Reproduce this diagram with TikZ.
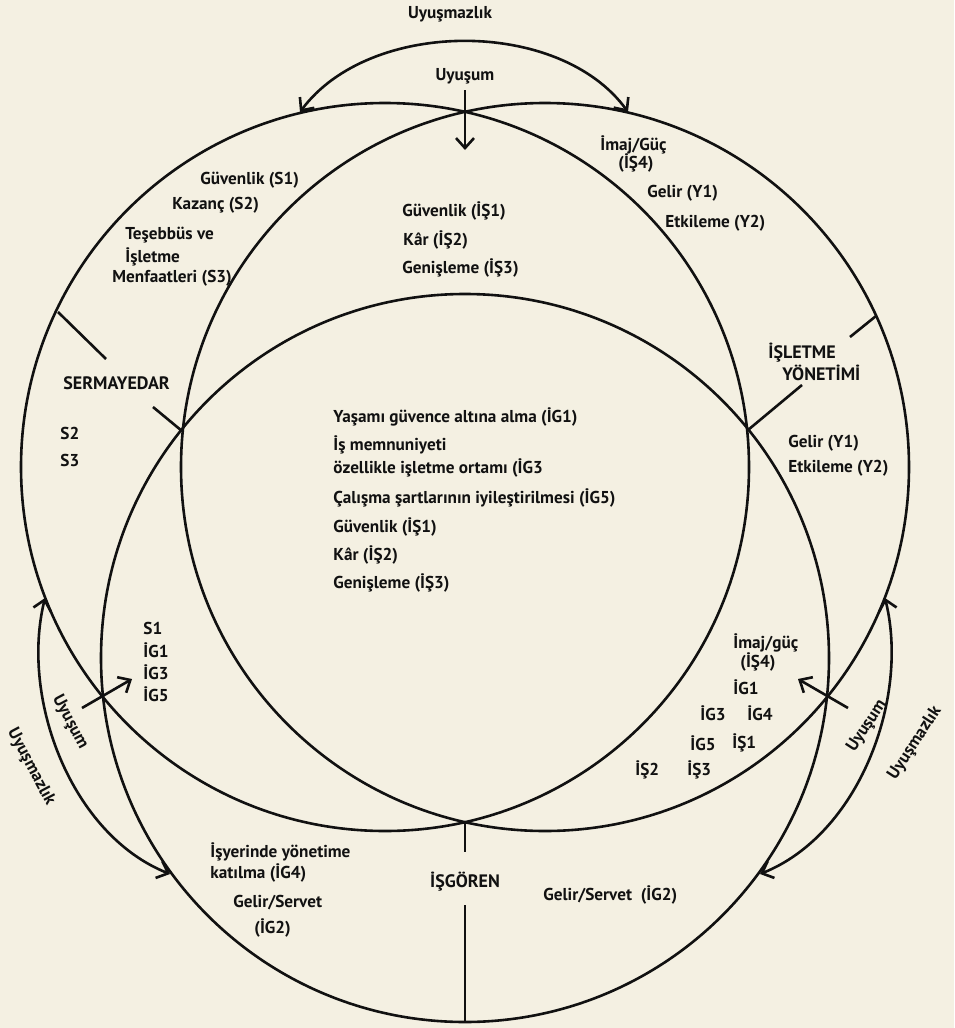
\documentclass[tikz,border=0pt]{standalone}
\usepackage{fontspec}
\setsansfont{PT Sans}
\usetikzlibrary{arrows.meta}
\definecolor{paper}{HTML}{F4F0E2}
\definecolor{ink}{HTML}{111111}

\begin{document}
\begin{tikzpicture}[
    x=0.5pt, y=-0.5pt,
    >={Straight Barb[length=5pt, width=9pt]},
    every node/.style={font=\sffamily\bfseries\fontsize{8.6}{10}\selectfont, text=ink, inner sep=0pt},
    % Group circle
    grp/.style={draw=ink, line width=1.3pt},
    % Harmony / conflict arrows
    arr/.style={->, line width=1.3pt, draw=ink},
    arrb/.style={<->, line width=1.3pt, draw=ink},
    % Pointer from group name
    ptr/.style={line width=1.3pt, draw=ink},
    % Goal text, left aligned
    goal/.style={anchor=west},
    % Group name
    gname/.style={anchor=west, font=\sffamily\bfseries\fontsize{9}{10}\selectfont}
]

% ---------- Paper ----------
\fill[paper] (0,0) rectangle (954,1028);
\useasboundingbox (0,0) rectangle (954,1028);

% ---------- Three group circles ----------
\coordinate (cS) at (385,467);
\coordinate (cY) at (545,467);
\coordinate (cI) at (465,658);
\draw[grp] (cS) circle[radius=182pt];
\draw[grp] (cY) circle[radius=182pt];
\draw[grp] (cI) circle[radius=182pt];

% ---------- Top: Uyusum / Uyusmazlik ----------
\node (uzTop) at (450,14) {Uyuşmazlık};
\node (usTop) at (465,76) {Uyuşum};
\coordinate (tA) at (465,90);
\coordinate (tB) at (465,150);
\draw[arr] (tA) -- (tB);
\coordinate (tL) at (300,112);
\coordinate (tR) at (628,112);
\draw[arrb] (tL) .. controls (370,18) and (560,18) .. (tR);

% ---------- Left: Uyusum / Uyusmazlik ----------
\coordinate (lA) at (82,708);
\coordinate (lB) at (132,679);
\draw[arr] (lA) -- (lB);
\node[rotate=-62] (usLeft) at (70,722) {Uyuşum};
\coordinate (lT) at (45,598);
\coordinate (lU) at (170,874);
\draw[arrb] (lT) .. controls (20,700) and (72,835) .. (lU);
\node[rotate=-62] (uzLeft) at (31,767) {Uyuşmazlık};

% ---------- Right: Uyusum / Uyusmazlik ----------
\coordinate (rA) at (848,708);
\coordinate (rB) at (798,679);
\draw[arr] (rA) -- (rB);
\node[rotate=57] (usRight) at (867,726) {Uyuşum};
\coordinate (rT) at (885,598);
\coordinate (rU) at (760,874);
\draw[arrb] (rT) .. controls (910,700) and (858,835) .. (rU);
\node[rotate=57] (uzRight) at (915,743) {Uyuşmazlık};

% ---------- SERMAYEDAR ----------
\node[goal] (s1) at (200,180) {Güvenlik (S1)};
\node[goal] (s2) at (172,205) {Kazanç (S2)};
\node[goal] (s3a) at (125,235) {Teşebbüs ve};
\node[goal] (s3b) at (125,257) {İşletme};
\node[goal] (s3c) at (112,278) {Menfaatleri (S3)};
\node[gname] (serm) at (63,383) {SERMAYEDAR};
\coordinate (sp1) at (58,312);
\coordinate (sp2) at (106,359);
\coordinate (sp3) at (153,407);
\coordinate (sp4) at (182,431);
\draw[ptr] (sp1) -- (sp2);
\draw[ptr] (sp3) -- (sp4);
\node[goal] (sS2) at (60,433) {S2};
\node[goal] (sS3) at (60,460) {S3};

% ---------- SERMAYEDAR / ISLETME YONETIMI ----------
\node[goal] (is1a) at (402,211) {Güvenlik (İŞ1)};
\node[goal] (is2a) at (403,240) {Kâr (İŞ2)};
\node[goal] (is3a) at (402,268) {Genişleme (İŞ3)};

% ---------- ISLETME YONETIMI ----------
\node[goal] (yIm) at (600,145) {İmaj/Güç};
\node[goal] (yIm2) at (618,163) {(İŞ4)};
\node[goal] (yG) at (647,193) {Gelir (Y1)};
\node[goal] (yE) at (665,223) {Etkileme (Y2)};
\node[gname] (isl) at (768,353) {İŞLETME};
\node[gname] (yon) at (782,373) {YÖNETİMİ};
\coordinate (yp1) at (876,316);
\coordinate (yp2) at (850,337);
\coordinate (yp3) at (802,385);
\coordinate (yp4) at (748,430);
\draw[ptr] (yp1) -- (yp2);
\draw[ptr] (yp3) -- (yp4);
\node[goal] (yG2) at (788,443) {Gelir (Y1)};
\node[goal] (yE2) at (788,468) {Etkileme (Y2)};

% ---------- Common to all three ----------
\node[goal] (c1) at (333,417) {Yaşamı güvence altına alma (İG1)};
\node[goal] (c2) at (333,445) {İş memnuniyeti};
\node[goal] (c3) at (333,468) {özellikle işletme ortamı (İG3};
\node[goal] (c4) at (333,498) {Çalışma şartlarının iyileştirilmesi (İG5)};
\node[goal] (c5) at (333,527) {Güvenlik (İŞ1)};
\node[goal] (c6) at (333,555) {Kâr (İŞ2)};
\node[goal] (c7) at (333,583) {Genişleme (İŞ3)};

% ---------- SERMAYEDAR / ISGOREN ----------
\node[goal] (lS1) at (143,628) {S1};
\node[goal] (lG1) at (143,650) {İG1};
\node[goal] (lG3) at (143,672) {İG3};
\node[goal] (lG5) at (143,694) {İG5};

% ---------- ISLETME YONETIMI / ISGOREN ----------
\node[goal] (rIm) at (733,643) {İmaj/güç};
\node[goal] (rIm2) at (740,662) {(İŞ4)};
\node[goal] (rG1) at (733,687) {İG1};
\node[goal] (rG3) at (700,713) {İG3};
\node[goal] (rG4) at (747,713) {İG4};
\node[goal] (rG5) at (690,743) {İG5};
\node[goal] (rS1) at (732,743) {İŞ1};
\node[goal] (rS2) at (635,770) {İŞ2};
\node[goal] (rS3) at (687,770) {İŞ3};

% ---------- ISGOREN ----------
\node[goal] (gY) at (210,852) {İşyerinde yönetime};
\node[goal] (gK) at (210,873) {katılma (İG4)};
\node[goal] (gGa) at (233,903) {Gelir/Servet};
\node[goal] (gGb) at (254,928) {(İG2)};
\node[gname, anchor=center] (isg) at (465,882) {İŞGÖREN};
\coordinate (gp1) at (465,822);
\coordinate (gp2) at (465,852);
\coordinate (gp3) at (465,905);
\coordinate (gp4) at (465,1022);
\draw[ptr] (gp1) -- (gp2);
\draw[ptr] (gp3) -- (gp4);
\node[goal] (gGr) at (543,895) {Gelir/Servet\ \ (İG2)};

\end{tikzpicture}
\end{document}
